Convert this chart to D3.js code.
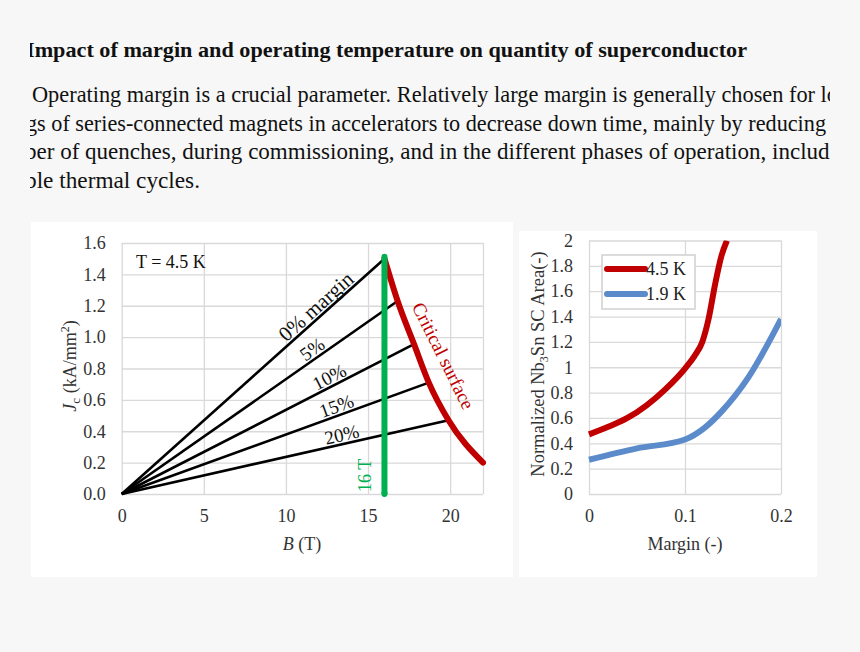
<!DOCTYPE html>
<html lang="en">
<head>
    <meta charset="UTF-8">
    <title>Margin and operating temperature</title>
    <script type="text/javascript" src="https://d3js.org/d3.v7.min.js"></script>
    <style>
    body { margin: 0; background: #f7f7f7; }
    svg text { font-family: "Liberation Serif", "Times New Roman", serif; fill: #222; }
    g.grid line { stroke: #d9d9d9; stroke-width: 1.3; }
    g.grid path { display: none; }
    g.ticks path, g.ticks line { display: none; }
    g.ticks text { font-size: 18px; fill: #333; font-family: "Liberation Serif", serif; }
    </style>
</head>
<body>
    <script type="text/javascript">

        // page text (visible parts of the scanned page)
        var titleText = "Impact of margin and operating temperature on quantity of superconductor";
        var bodyLines = [
            "Operating margin is a crucial parameter. Relatively large margin is generally chosen for lo",
            "gs of series-connected magnets in accelerators to decrease down time, mainly by reducing",
            "ber of quenches, during commissioning, and in the different phases of operation, includi",
            "ble thermal cycles."
        ];

        // left chart: load lines for each margin, ending on the critical surface
        var marginLabels = ["0% margin", "5%", "10%", "15%", "20%"];
        var marginEndB = [16, 16.8, 17.8, 18.7, 19.9];
        var marginEndJ = [1.5, 1.23, 0.955, 0.71, 0.47];
        var critB = [16, 16.8, 17.8, 18.7, 19.9, 22];
        var critJ = [1.5, 1.23, 0.955, 0.71, 0.47, 0.2];
        var fieldB = 16, fieldTop = 1.5;
        var leftXTicks = [0, 5, 10, 15, 20];
        var leftYTicks = [0, 0.2, 0.4, 0.6, 0.8, 1.0, 1.2, 1.4, 1.6];

        // right chart: normalized SC area vs margin
        var seriesNames = ["4.5 K", "1.9 K"];
        var margin45 = [0, 0.02, 0.04, 0.06, 0.08, 0.1, 0.11, 0.118, 0.1245, 0.1315, 0.138, 0.1437];
        var area45 = [0.47, 0.53, 0.6, 0.7, 0.83, 0.99, 1.09, 1.2, 1.38, 1.66, 1.88, 2.0];
        var margin19 = [0, 0.05, 0.1, 0.12, 0.138, 0.166, 0.2];
        var area19 = [0.27, 0.36, 0.43, 0.52, 0.65, 0.92, 1.38];
        var rightXTicks = [0, 0.1, 0.2];
        var rightYTicks = [0, 0.2, 0.4, 0.6, 0.8, 1, 1.2, 1.4, 1.6, 1.8, 2];

        var red = "#c00000", blue = "#5b8bcb", green = "#00b050";

        var svg = d3.select("body").append("svg").attr("width", 860).attr("height", 652);

        // ---- page text ----
        svg.append("clipPath").attr("id", "pageclip")
            .append("rect").attr("x", 30).attr("y", 0).attr("width", 800).attr("height", 220);
        var page = svg.append("g").attr("clip-path", "url(#pageclip)");
        page.append("text")
            .attr("x", 26).attr("y", 57)
            .attr("textLength", 721).attr("lengthAdjust", "spacingAndGlyphs")
            .style("font-size", "22px").style("font-weight", "bold").style("fill", "#111")
            .text(titleText);
        var lineX = [32, 26, 25, 25];
        var lineEnd = [838, 826, 836, 200];
        var lineY = [102, 131, 159, 188];
        page.selectAll("text.body")
            .data(bodyLines)
            .enter().append("text")
                .attr("class", "body")
                .attr("x", function(d, i){ return lineX[i]; })
                .attr("y", function(d, i){ return lineY[i]; })
                .attr("textLength", function(d, i){ return lineEnd[i] - lineX[i]; })
                .attr("lengthAdjust", "spacingAndGlyphs")
                .style("font-size", "22.5px").style("fill", "#111")
                .text(function(d){ return d; });

        // ---- panels ----
        svg.append("rect").attr("x", 31).attr("y", 222).attr("width", 482).attr("height", 355).attr("fill", "#fff");
        svg.append("rect").attr("x", 519).attr("y", 231).attr("width", 298).attr("height", 346).attr("fill", "#fff");

        // ---- left chart ----
        var xL = d3.scaleLinear().domain([0, 22]).range([121.7, 483]);
        var yL = d3.scaleLinear().domain([0, 1.6]).range([494, 243]);

        var left = svg.append("g");
        left.append("g").attr("class", "grid")
            .attr("transform", "translate(0," + yL(0) + ")")
            .call(d3.axisBottom(xL).tickValues(leftXTicks.concat([22])).tickSize(yL(1.6) - yL(0)).tickFormat(""));
        left.append("g").attr("class", "grid")
            .attr("transform", "translate(" + xL(0) + ",0)")
            .call(d3.axisLeft(yL).tickValues(leftYTicks).tickSize(xL(0) - xL(22)).tickFormat(""));

        left.append("g").attr("class", "ticks")
            .attr("transform", "translate(0," + (yL(0) + 11) + ")")
            .call(d3.axisBottom(xL).tickValues(leftXTicks).tickSize(0).tickPadding(4));
        left.append("g").attr("class", "ticks")
            .attr("transform", "translate(" + (xL(0) - 16) + ",0)")
            .call(d3.axisLeft(yL).tickValues(leftYTicks).tickSize(0).tickPadding(0).tickFormat(d3.format(".1f")));

        // margin load lines
        var margins = marginLabels.map(function(l, i){ return {label: l, b: marginEndB[i], j: marginEndJ[i]}; });
        left.append("g").selectAll("line")
            .data(margins)
            .enter().append("line")
                .attr("x1", xL(0)).attr("y1", yL(0))
                .attr("x2", function(d){ return xL(d.b); })
                .attr("y2", function(d){ return yL(d.j); })
                .attr("stroke", "#000").attr("stroke-width", 2.6);

        var labelT = [0.765, 0.71, 0.725, 0.71, 0.68];
        var labelSize = [21, 19, 19, 19, 19];
        left.append("g").selectAll("text")
            .data(margins)
            .enter().append("text")
                .attr("transform", function(d, i){
                    var px = xL(0) + labelT[i] * (xL(d.b) - xL(0));
                    var py = yL(0) + labelT[i] * (yL(d.j) - yL(0));
                    var ang = Math.atan2(yL(d.j) - yL(0), xL(d.b) - xL(0)) * 180 / Math.PI;
                    return "translate(" + px + "," + py + ") rotate(" + ang + ")";
                })
                .attr("dy", -3)
                .attr("text-anchor", "middle")
                .style("font-size", function(d, i){ return labelSize[i] + "px"; })
                .style("fill", "#111")
                .text(function(d){ return d.label; });

        // critical surface
        var crit = critB.map(function(b, i){ return [b, critJ[i]]; });
        left.append("path")
            .datum(crit)
            .attr("d", d3.line().x(function(d){ return xL(d[0]); }).y(function(d){ return yL(d[1]); }).curve(d3.curveMonotoneX))
            .attr("fill", "none").attr("stroke", red).attr("stroke-width", 6).attr("stroke-linecap", "round");

        // 16 T line
        left.append("line")
            .attr("x1", xL(fieldB)).attr("x2", xL(fieldB))
            .attr("y1", yL(0)).attr("y2", yL(fieldTop) - 2)
            .attr("stroke", green).attr("stroke-width", 6).attr("stroke-linecap", "round");
        left.append("line")
            .attr("x1", xL(fieldB)).attr("x2", xL(fieldB))
            .attr("y1", yL(0) - 2).attr("y2", yL(0))
            .attr("stroke", green).attr("stroke-width", 6);

        left.append("text")
            .attr("transform", "translate(" + (xL(fieldB) - 13) + "," + (yL(0) - 2) + ") rotate(-90)")
            .style("font-size", "18px").style("fill", green)
            .text("16 T");

        left.append("text")
            .attr("transform", "translate(443,356) rotate(63.5)")
            .attr("text-anchor", "middle").attr("dy", 6)
            .style("font-size", "19px").style("fill", red)
            .text("Critical surface");

        left.append("text")
            .attr("x", 136).attr("y", 268)
            .style("font-size", "18px").style("fill", "#111")
            .text("T = 4.5 K");

        var yLab = left.append("text")
            .attr("transform", "translate(76,366) rotate(-90)")
            .attr("text-anchor", "middle")
            .style("font-size", "18px").style("fill", "#333");
        yLab.append("tspan").style("font-style", "italic").text("J");
        yLab.append("tspan").attr("dy", 4).style("font-size", "13px").text("c");
        yLab.append("tspan").attr("dy", -4).text(" (kA/mm");
        yLab.append("tspan").attr("dy", -7).style("font-size", "12px").text("2");
        yLab.append("tspan").attr("dy", 7).text(")");

        var xLab = left.append("text")
            .attr("x", 302).attr("y", 550)
            .attr("text-anchor", "middle")
            .style("font-size", "18px").style("fill", "#333");
        xLab.append("tspan").style("font-style", "italic").text("B");
        xLab.append("tspan").text(" (T)");

        // ---- right chart ----
        var xR = d3.scaleLinear().domain([0, 0.2]).range([589, 781]);
        var yR = d3.scaleLinear().domain([0, 2]).range([494, 240.5]);

        var right = svg.append("g");
        right.append("g").attr("class", "grid")
            .attr("transform", "translate(0," + yR(0) + ")")
            .call(d3.axisBottom(xR).tickValues(rightXTicks).tickSize(yR(2) - yR(0)).tickFormat(""));
        right.append("g").attr("class", "grid")
            .attr("transform", "translate(" + xR(0) + ",0)")
            .call(d3.axisLeft(yR).tickValues(rightYTicks).tickSize(xR(0) - xR(0.2)).tickFormat(""));

        right.append("g").attr("class", "ticks")
            .attr("transform", "translate(0," + (yR(0) + 11) + ")")
            .call(d3.axisBottom(xR).tickValues(rightXTicks).tickSize(0).tickPadding(4)
                .tickFormat(function(d){ return String(+d.toFixed(1)); }));
        right.append("g").attr("class", "ticks")
            .attr("transform", "translate(" + (xR(0) - 16) + ",0)")
            .call(d3.axisLeft(yR).tickValues(rightYTicks).tickSize(0).tickPadding(0)
                .tickFormat(function(d){ return String(+d.toFixed(1)); }));

        svg.append("clipPath").attr("id", "rclip")
            .append("rect").attr("x", xR(0) - 4).attr("y", yR(2)).attr("width", xR(0.2) - xR(0) + 4).attr("height", yR(0) - yR(2));

        var lineR = d3.line().x(function(d){ return xR(d[0]); }).y(function(d){ return yR(d[1]); }).curve(d3.curveMonotoneX);
        var series = [
            {name: seriesNames[0], color: red, pts: margin45.map(function(m, i){ return [m, area45[i]]; })},
            {name: seriesNames[1], color: blue, pts: margin19.map(function(m, i){ return [m, area19[i]]; })}
        ];
        right.append("g").attr("clip-path", "url(#rclip)")
            .selectAll("path")
            .data(series)
            .enter().append("path")
                .attr("d", function(d){ return lineR(d.pts); })
                .attr("fill", "none")
                .attr("stroke", function(d){ return d.color; })
                .attr("stroke-width", 6);

        // legend
        var legend = right.append("g").attr("transform", "translate(602,255)");
        legend.append("rect").attr("width", 93).attr("height", 54)
            .attr("fill", "#fff").attr("stroke", "#d0d0d0").attr("stroke-width", 1.5);
        var item = legend.selectAll("g")
            .data(series)
            .enter().append("g")
                .attr("transform", function(d, i){ return "translate(0," + (14 + i * 25) + ")"; });
        item.append("line")
            .attr("x1", 5).attr("x2", 43)
            .attr("stroke", function(d){ return d.color; })
            .attr("stroke-width", 6).attr("stroke-linecap", "round");
        item.append("text")
            .attr("x", 44).attr("dy", 6)
            .style("font-size", "18px").style("fill", "#222")
            .text(function(d){ return d.name; });

        var yRLab = right.append("text")
            .attr("transform", "translate(544,364) rotate(-90)")
            .attr("text-anchor", "middle")
            .style("font-size", "18.5px").style("fill", "#333");
        yRLab.append("tspan").text("Normalized Nb");
        yRLab.append("tspan").attr("dy", 4).style("font-size", "12px").text("3");
        yRLab.append("tspan").attr("dy", -4).text("Sn SC Area(-)");

        right.append("text")
            .attr("x", 685).attr("y", 550)
            .attr("text-anchor", "middle")
            .style("font-size", "18px").style("fill", "#333")
            .text("Margin (-)");

    </script>
</body>
</html>
